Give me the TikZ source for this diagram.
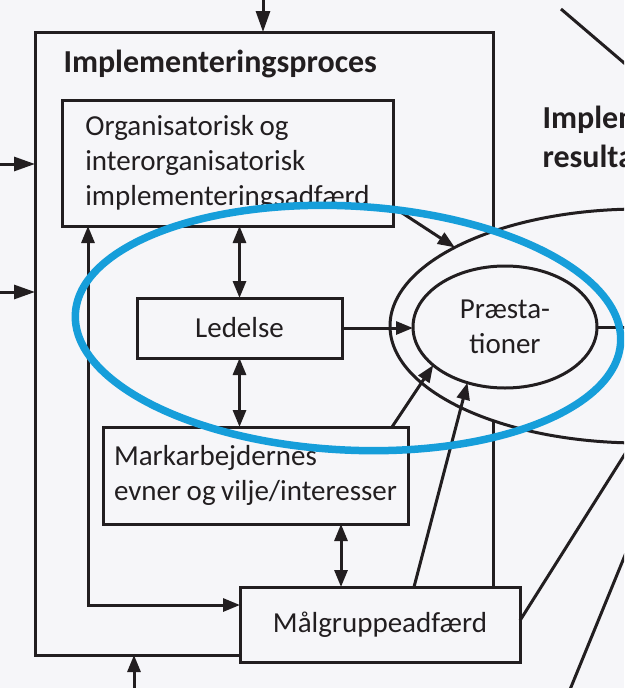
\documentclass[tikz,border=0pt]{standalone}
\usepackage{fontspec}
\setmainfont{Carlito}
\usetikzlibrary{arrows.meta,calc,shapes.geometric}
\definecolor{ink}{RGB}{34,30,32}
\definecolor{paper}{RGB}{246,246,249}
\definecolor{marker}{RGB}{22,158,218}
\newcommand\txtbody{\fontsize{29}{35}\selectfont\spaceskip=0.19em plus 0.05em minus 0.03em\relax}
\newcommand\txthead{\fontsize{32}{39}\selectfont\bfseries}
\begin{document}
\begin{tikzpicture}[x=1pt,y=-1pt,line width=3pt,draw=ink,text=ink,
  box/.style={draw,rectangle,fill=paper,inner sep=0pt,outer sep=0pt,font=\txtbody},
  tip/.style={-{Triangle[length=17pt,width=13pt]}},
  tipbig/.style={-{Triangle[length=21pt,width=14pt]}},
  tipboth/.style={{Triangle[length=17pt,width=13pt]}-{Triangle[length=17pt,width=13pt]}}]
\useasboundingbox (0,0) rectangle (624,688);
\fill[paper] (0,0) rectangle (624,688);
\clip (0,0) rectangle (624,688);

% frame of the implementation process
\node[draw,rectangle,inner sep=0pt,outer sep=0pt,minimum width=458pt,minimum height=623pt] (proc) at (264,343.5) {};
\node[anchor=base west,inner sep=0pt,font=\txthead] (ttl) at (62,72) {Implementeringsproces};

% results ellipse and performance ellipse
\node[draw,ellipse,fill=paper,inner sep=0pt,outer sep=0pt,minimum width=500pt,minimum height=234pt] (res) at (640,326) {};
\node[draw,ellipse,fill=paper,inner sep=0pt,outer sep=0pt,minimum width=184pt,minimum height=122pt,align=center,font=\txtbody] (prae) at (505,327) {Præsta-\\tioner};
\node[anchor=base west,inner sep=0pt,font=\txthead] (rt1) at (541,128) {Implementerings-};
\node[anchor=base west,inner sep=0pt,font=\txthead] (rt2) at (541,167) {resultater};

% boxes
\node[box,minimum width=331pt,minimum height=126pt,align=left] (org) at (227.5,163) {Organisatorisk og\\interorganisatorisk\\implementeringsadfærd};
\node[box,minimum width=205pt,minimum height=60pt] (led) at (239.5,328) {Ledelse};
\node[box,minimum width=305pt,minimum height=97pt,align=left] (mark) at (255.5,475.5) {Markarbejdernes\\evner og vilje/interesser};
\node[box,minimum width=280pt,minimum height=75pt] (malg) at (380,624.5) {Målgruppeadfærd};

% incoming arrows
\coordinate (topin) at (263,-2);
\draw[tipbig] (topin) -- (topin |- proc.north);
\coordinate (lin1) at (-2,164);
\draw[tipbig] (lin1) -- (lin1 -| proc.west);
\coordinate (lin2) at (-2,292);
\draw[tipbig] (lin2) -- (lin2 -| proc.west);
\coordinate (botin) at (134,690);
\draw[tip] (botin) -- (botin |- proc.south);

% links inside the process
\coordinate (loop) at (88,605);
\draw[tipboth] (loop |- org.south) -- (loop) -- (loop -| malg.west);
\draw[tipboth] (led.north) -- (led.north |- org.south);
\draw[tipboth] (led.south) -- (led.south |- mark.north);
\coordinate (mm) at (341,0);
\draw[tipboth] (mm |- mark.south) -- (mm |- malg.north);

% links to the results
\draw[tip] (led.east) -- (led.east -| prae.west);
\draw[tip] ($(org.south east)+(0,-19)$) -- (res.157.4);
\draw[tip] ($(mark.north east)+(-16,0)$) -- (prae.208);
\draw[tip] ($(malg.north west)+(174,0)$) -- (prae.236);

% lines leaving the picture
\coordinate (edgeR) at (630,0);
\draw (prae.east) -- (prae.east -| edgeR);
\coordinate (out1) at (630,446);
\draw ($(malg.east)+(0,-4)$) -- (out1);
\coordinate (out2a) at (569,692);
\coordinate (out2b) at (630,543);
\draw (out2a) -- (out2b);
\coordinate (out3a) at (561,9);
\coordinate (out3b) at (630,68);
\draw (out3a) -- (out3b);

% highlight ring
\draw[marker,line width=7.5pt,rotate around={-3:(348,328)}] (348,328) ellipse [x radius=273, y radius=122];
\end{tikzpicture}
\end{document}
